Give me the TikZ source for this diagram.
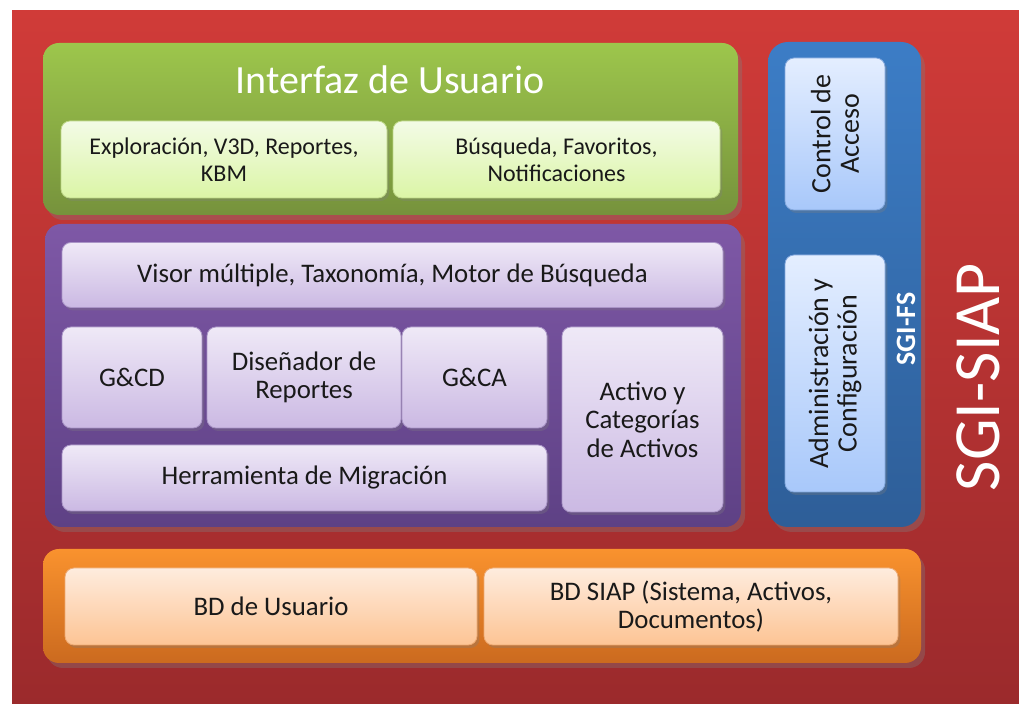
\documentclass[tikz,border=0pt]{standalone}
\usepackage{fontspec}
\setmainfont{Carlito}
\usetikzlibrary{shadows}

\definecolor{redtop}{RGB}{208,59,56}
\definecolor{redbot}{RGB}{155,42,44}
\definecolor{grntop}{RGB}{157,198,76}
\definecolor{grnbot}{RGB}{118,146,60}
\definecolor{grnlt}{RGB}{243,251,230}
\definecolor{grndk}{RGB}{219,245,166}
\definecolor{purtop}{RGB}{126,88,166}
\definecolor{purbot}{RGB}{94,65,133}
\definecolor{purlt}{RGB}{239,233,247}
\definecolor{purdk}{RGB}{203,185,227}
\definecolor{blutop}{RGB}{60,125,198}
\definecolor{blubot}{RGB}{46,94,152}
\definecolor{blult}{RGB}{228,238,255}
\definecolor{bludk}{RGB}{168,200,250}
\definecolor{orgtop}{RGB}{249,146,46}
\definecolor{orgbot}{RGB}{203,106,31}
\definecolor{orglt}{RGB}{254,236,222}
\definecolor{orgdk}{RGB}{253,196,148}

\begin{document}
\begin{tikzpicture}[x=0.5pt, y=-0.5pt,
    panel/.style={rounded corners=8pt, inner sep=0pt,
        drop shadow={opacity=0.35, shadow xshift=2pt, shadow yshift=-2.5pt}},
    box/.style={rounded corners=4.5pt, inner sep=2pt, align=center, text=black!90,
        font=\fontsize{13.4}{14.2}\selectfont, line width=0.4pt,
        drop shadow={opacity=0.3, shadow xshift=1.2pt, shadow yshift=-1.5pt}},
    grnbox/.style={box, draw=grndk!70!grnbot, top color=grnlt, bottom color=grndk,
        font=\fontsize{12}{13.5}\selectfont},
    purbox/.style={box, draw=purdk!70!purbot, top color=purlt, bottom color=purdk},
    blubox/.style={box, draw=bludk!70!blubot, top color=blult, bottom color=bludk, rotate=90,
        font=\fontsize{14}{14.2}\selectfont},
    orgbox/.style={box, draw=orgdk!70!orgbot, top color=orglt, bottom color=orgdk}]

    \useasboundingbox (0,0) rectangle (1019,704);
    \fill[white] (0,0) rectangle (1019,704);
    \fill[top color=redtop, bottom color=redbot] (12,11) rectangle (1019,704);

    % interfaz de usuario
    \node[panel, top color=grntop, bottom color=grnbot,
        minimum width=347.5pt, minimum height=86pt] (ui) at (390.5,129) {};
    \node[text=white, font=\fontsize{20}{24}\selectfont] (uititle) at (390,80) {Interfaz de Usuario};
    \node[grnbox, minimum width=163pt, minimum height=38.5pt] (expl) at (224,159.5)
        {Exploración, V3D, Reportes,\\KBM};
    \node[grnbox, minimum width=163.5pt, minimum height=38.5pt] (busq) at (556.5,159.5)
        {Búsqueda, Favoritos,\\Notificaciones};

    % logica
    \node[panel, top color=purtop, bottom color=purbot,
        minimum width=348pt, minimum height=151.5pt] (core) at (393,375.5) {};
    \node[purbox, minimum width=330.5pt, minimum height=32.5pt] (visor) at (392.5,275)
        {Visor múltiple, Taxonomía, Motor de Búsqueda};
    \node[purbox, minimum width=70pt, minimum height=50.5pt] (gcd) at (132,377.5) {G\&CD};
    \node[purbox, minimum width=97pt, minimum height=50.5pt] (dis) at (304,377.5)
        {Diseñador de\\Reportes};
    \node[purbox, minimum width=72.5pt, minimum height=50.5pt] (gca) at (474.5,377.5) {G\&CA};
    \node[purbox, minimum width=242.5pt, minimum height=33pt] (migr) at (304.5,478)
        {Herramienta de Migración};
    \node[purbox, minimum width=80.5pt, minimum height=92.5pt] (activo) at (642.5,419.5)
        {Activo y\\Categorías\\de Activos};

    % sgi-fs
    \node[panel, rounded corners=10pt, top color=blutop, bottom color=blubot,
        minimum width=76.5pt, minimum height=242.5pt] (fs) at (844.5,284.5) {};
    \node[blubox, minimum width=76pt, minimum height=50pt] (ctl) at (835,134)
        {Control de\\Acceso};
    \node[blubox, minimum width=118.5pt, minimum height=50pt] (adm) at (835,373.5)
        {Administración y\\Configuración};
    \node[rotate=90, text=white, font=\fontsize{14}{16}\selectfont\bfseries] (fslabel) at (906,329) {SGI-FS};

    % bases de datos
    \node[panel, top color=orgtop, bottom color=orgbot,
        minimum width=439pt, minimum height=57pt] (bd) at (482,606) {};
    \node[orgbox, minimum width=206pt, minimum height=38.5pt] (bdusr) at (271,606.5) {BD de Usuario};
    \node[orgbox, minimum width=207pt, minimum height=38.5pt] (bdsiaip) at (691,606.5)
        {BD SIAP (Sistema, Activos,\\Documentos)};

    \node[rotate=90, text=white, font=\fontsize{33}{38}\selectfont] (siap) at (978,377) {SGI-SIAP};
\end{tikzpicture}
\end{document}
